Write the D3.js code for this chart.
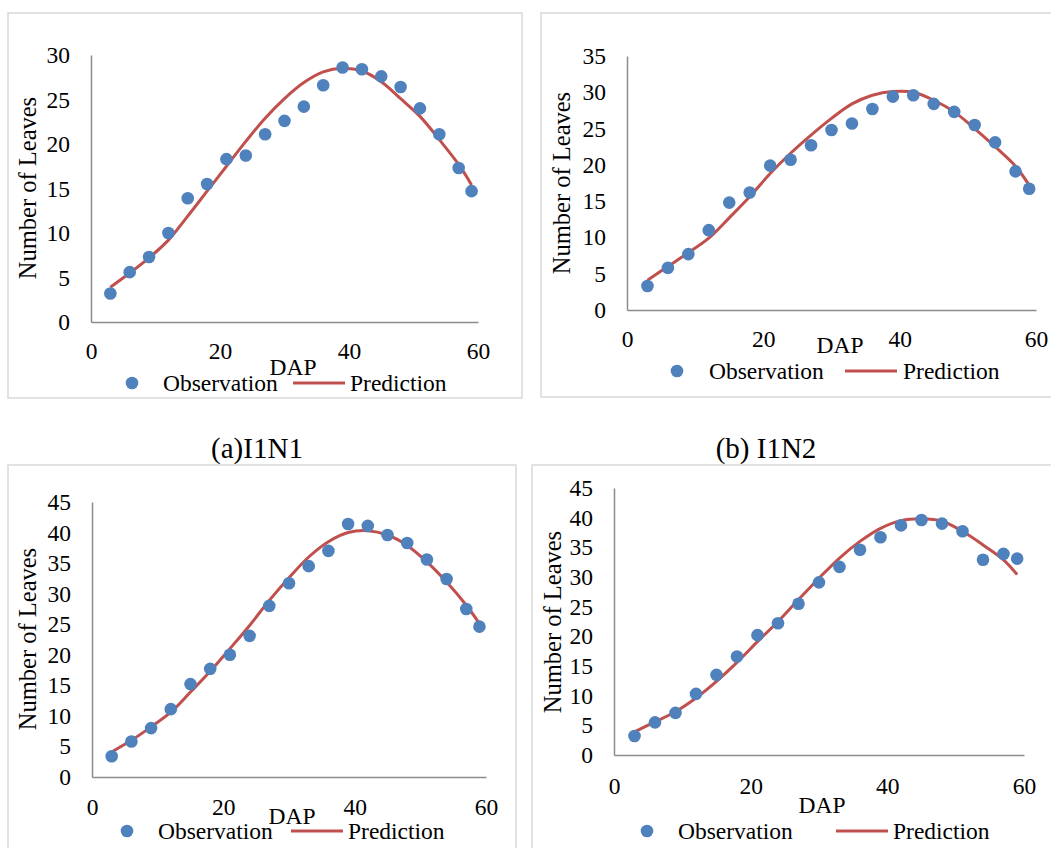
<!DOCTYPE html>
<html>
<head>
<meta charset="utf-8">
<script src="https://d3js.org/d3.v7.min.js"></script>
<style>
  body { margin: 0; background: #fff; }
  text { font-family: "Liberation Serif", "Times New Roman", serif; fill: #000; }
</style>
</head>
<body>
<script>
// days after planting
const dap = [3, 6, 9, 12, 15, 18, 21, 24, 27, 30, 33, 36, 39, 42, 45, 48, 51, 54, 57, 59];

const obsA  = [3.2, 5.6, 7.3, 10.0, 13.9, 15.5, 18.3, 18.7, 21.1, 22.6, 24.2, 26.6, 28.6, 28.4, 27.6, 26.4, 24.0, 21.1, 17.3, 14.7];
const predA = [3.9, 5.5, 7.2, 9.2, 11.9, 14.7, 17.5, 20.3, 22.9, 25.1, 26.9, 28.1, 28.5, 28.2, 27.0, 25.1, 23.1, 20.5, 17.7, 15.4];

const obsB  = [3.3, 5.8, 7.7, 11.0, 14.8, 16.2, 19.9, 20.7, 22.7, 24.8, 25.7, 27.7, 29.4, 29.6, 28.4, 27.3, 25.5, 23.1, 19.1, 16.7];
const predB = [4.1, 6.0, 7.9, 9.9, 12.7, 15.6, 18.8, 21.6, 24.1, 26.4, 28.4, 29.6, 30.1, 30.0, 28.9, 27.3, 25.0, 22.5, 19.8, 17.2];

const obsC  = [3.4, 5.8, 8.0, 11.1, 15.2, 17.7, 20.0, 23.1, 28.0, 31.7, 34.5, 37.0, 41.4, 41.1, 39.6, 38.3, 35.6, 32.4, 27.5, 24.6];
const predC = [4.1, 6.0, 8.2, 10.6, 13.9, 17.3, 21.0, 24.8, 28.9, 32.6, 36.0, 38.5, 40.0, 40.3, 39.6, 37.9, 35.2, 31.9, 28.1, 25.1];

const obsD  = [3.2, 5.5, 7.1, 10.3, 13.5, 16.6, 20.2, 22.2, 25.5, 29.1, 31.7, 34.6, 36.7, 38.7, 39.6, 39.0, 37.7, 32.9, 33.9, 33.1];
const predD = [3.9, 5.6, 7.3, 9.6, 12.4, 15.6, 19.1, 22.5, 26.2, 29.8, 33.2, 36.0, 38.2, 39.5, 39.8, 39.4, 37.7, 35.4, 32.9, 30.4];

const yMax = [30, 35, 45, 45];
const xTicks = [0, 20, 40, 60];
const captions = ["(a)I1N1", "(b) I1N2"];

const blue = "#4f81bd", red = "#c0504d", axisGray = "#8c8c8c", boxGray = "#d9d9d9";
const fs = 23.5;

const svg = d3.select("body").append("svg")
    .attr("width", 1051)
    .attr("height", 848);

svg.append("rect").attr("width", 1051).attr("height", 848).attr("fill", "#fff");

// layout of each panel
const panels = [
  {obs: obsA, pred: predA, ymax: yMax[0],
   box: [8, 13, 514, 385], plot: [91, 478, 55, 322], xpad: 20,
   dap: [293, 367], leg: [383, 132, 163, 293, 345, 350], ytitle: [27, 188]},
  {obs: obsB, pred: predB, ymax: yMax[1],
   box: [541, 13, 530, 384], plot: [627, 1036, 56, 310], xpad: 20,
   dap: [840, 345], leg: [371, 677, 709, 845, 897, 903], ytitle: [561, 183]},
  {obs: obsC, pred: predC, ymax: yMax[2],
   box: [8, 465, 508, 420], plot: [92, 486, 502, 777], xpad: 21,
   dap: [292, 816], leg: [831, 127, 158, 291, 343, 348], ytitle: [27, 639]},
  {obs: obsD, pred: predD, ymax: yMax[3],
   box: [532, 465, 530, 420], plot: [614, 1024, 488, 755], xpad: 22,
   dap: [822, 805], leg: [831, 647, 678, 836, 888, 893], ytitle: [552, 622]}
];

panels.forEach(p => {
  const g = svg.append("g");

  g.append("rect")
    .attr("x", p.box[0]).attr("y", p.box[1])
    .attr("width", p.box[2]).attr("height", p.box[3])
    .attr("fill", "none").attr("stroke", boxGray).attr("stroke-width", 1.5);

  const x = d3.scaleLinear().domain([0, 60]).range([p.plot[0], p.plot[1]]);
  const y = d3.scaleLinear().domain([0, p.ymax]).range([p.plot[3], p.plot[2]]);

  const xAxis = g.append("g")
    .attr("transform", "translate(0," + p.plot[3] + ")")
    .call(d3.axisBottom(x).tickValues(xTicks).tickSize(0).tickPadding(p.xpad));
  const yAxis = g.append("g")
    .attr("transform", "translate(" + p.plot[0] + ",0)")
    .call(d3.axisLeft(y).tickValues(d3.range(0, p.ymax + 1, 5)).tickSize(0).tickPadding(21));

  [xAxis, yAxis].forEach(a => {
    a.select(".domain").attr("stroke", axisGray).attr("stroke-width", 1.5);
    a.selectAll("text").attr("font-size", fs).attr("font-family", null).attr("fill", "#000");
  });

  const line = d3.line()
    .x((d, i) => x(dap[i]))
    .y(d => y(d))
    .curve(d3.curveCatmullRom.alpha(0.5));

  g.append("path")
    .datum(p.pred)
    .attr("d", line)
    .attr("fill", "none")
    .attr("stroke", red)
    .attr("stroke-width", 3);

  g.selectAll("circle.obs")
    .data(p.obs)
    .enter().append("circle")
      .attr("class", "obs")
      .attr("cx", (d, i) => x(dap[i]))
      .attr("cy", d => y(d))
      .attr("r", 6.3)
      .attr("fill", blue);

  g.append("text")
    .attr("x", p.dap[0]).attr("y", p.dap[1])
    .attr("text-anchor", "middle").attr("dominant-baseline", "central")
    .attr("font-size", fs)
    .text("DAP");

  g.append("text")
    .attr("transform", "translate(" + p.ytitle[0] + "," + p.ytitle[1] + ") rotate(-90)")
    .attr("text-anchor", "middle").attr("dominant-baseline", "central")
    .attr("font-size", 24.5)
    .text("Number of Leaves");

  // legend
  const ly = p.leg[0];
  g.append("circle").attr("cx", p.leg[1]).attr("cy", ly).attr("r", 6.3).attr("fill", blue);
  g.append("text").attr("x", p.leg[2]).attr("y", ly)
    .attr("dominant-baseline", "central").attr("font-size", fs).text("Observation");
  g.append("line").attr("x1", p.leg[3]).attr("x2", p.leg[4]).attr("y1", ly).attr("y2", ly)
    .attr("stroke", red).attr("stroke-width", 3);
  g.append("text").attr("x", p.leg[5]).attr("y", ly)
    .attr("dominant-baseline", "central").attr("font-size", fs).text("Prediction");
});

// captions between rows
svg.selectAll("text.caption")
  .data(captions)
  .enter().append("text")
    .attr("class", "caption")
    .attr("x", (d, i) => i === 0 ? 257 : 766)
    .attr("y", 458)
    .attr("text-anchor", "middle")
    .attr("font-size", 29)
    .text(d => d);
</script>
</body>
</html>
